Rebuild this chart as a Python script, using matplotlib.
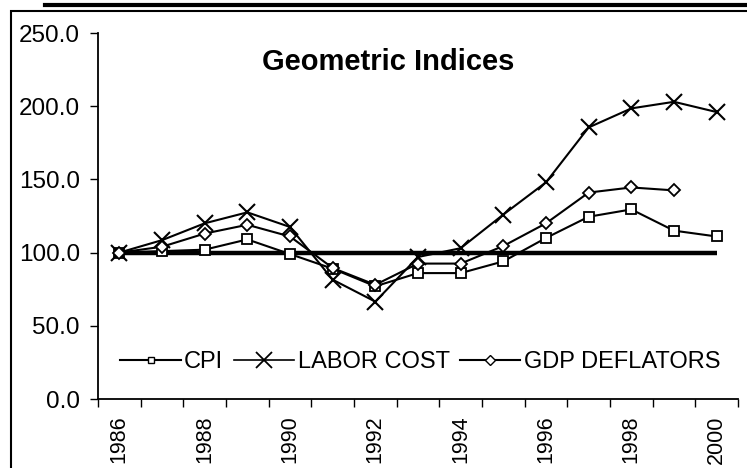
import numpy as np
import matplotlib
matplotlib.use("Agg")
import matplotlib.pyplot as plt
from matplotlib.patches import Rectangle
from matplotlib.lines import Line2D

plt.rcParams['font.family'] = ['Liberation Sans', 'DejaVu Sans']

years = [str(y) for y in range(1986, 2001)]
cpi = [100, 101, 102, 109, 99, 89, 77, 86, 86, 94, 110, 124.5, 129.5, 115, 111]
labor_cost = [100, 108.5, 120, 127.5, 117.5, 81.5, 66.5, 97, 103, 126, 148, 185.5, 198.5, 203, 196]
gdp_deflators = [100, 104, 113, 119, 111, 89.5, 78, 92.5, 92.5, 104.5, 120, 141, 144.5, 142.5, np.nan]
base_line = [100] * len(years)
title = "Geometric Indices"

fig = plt.figure(figsize=(7.47, 4.68), dpi=100)
ax = fig.add_axes([98 / 747, 1 - 399 / 468, 640 / 747, 366 / 468])

x = np.arange(len(years))
ax.plot(x, base_line, color='black', lw=3.2, solid_capstyle='butt', zorder=2)
ax.plot(x, cpi, color='black', lw=1.5, marker='s', ms=6.5, mfc='white',
        mec='black', mew=1.3, label='CPI', zorder=3)
ax.plot(x, labor_cost, color='black', lw=1.5, marker='x', ms=11, mew=1.5,
        label='LABOR COST', zorder=3)
ax.plot(x, gdp_deflators, color='black', lw=1.5, marker='D', ms=6, mfc='white',
        mec='black', mew=1.3, label='GDP DEFLATORS', zorder=3)

ax.set_xlim(-0.5, len(years) - 0.5)
ax.set_ylim(0, 250)
ax.set_yticks(np.arange(0, 251, 50))
ax.set_yticklabels([f"{v:.1f}" for v in np.arange(0, 251, 50)], fontsize=17.5)
ax.tick_params(axis='y', direction='out', length=6, width=1, pad=7)

ax.set_xticks(x[::2])
ax.set_xticklabels(years[::2], rotation=90, fontsize=15.5)
ax.set_xticks(np.arange(-0.5, len(years)), minor=True)
ax.tick_params(axis='x', which='major', length=0, pad=12)
ax.tick_params(axis='x', which='minor', direction='out', length=6, width=1)

for s in ['top', 'right']:
    ax.spines[s].set_visible(False)
for s in ['left', 'bottom']:
    ax.spines[s].set_linewidth(1.3)

handles = [Line2D([], [], color='black', lw=1.5, marker='s', ms=5, mfc='white', mec='black'),
           Line2D([], [], color='black', lw=1.2, marker='x', ms=11, mew=1.3),
           Line2D([], [], color='black', lw=1.5, marker='D', ms=5, mfc='white', mec='black')]
ax.legend(handles, ['CPI', 'LABOR COST', 'GDP DEFLATORS'], loc='center left',
          bbox_to_anchor=(0.035, 0.101), ncol=3, frameon=False, fontsize=17,
          handlelength=2.55, handletextpad=0.15, columnspacing=0.45, borderpad=0,
          borderaxespad=0)

fig.text(388 / 747, 1 - 62 / 468, title, fontsize=21, fontweight='bold',
         ha='center', va='center')

# outer frame of the scanned chart and the heading rule above it
fig.patches.append(Rectangle((11 / 747, -0.1), 1.2, 1.1 - 11 / 468, transform=fig.transFigure,
                             fill=False, ec='black', lw=1.5))
fig.lines.append(Line2D([45 / 747, 1], [1 - 5 / 468] * 2, transform=fig.transFigure,
                        color='black', lw=3))

fig.savefig("out.png", dpi=100)
